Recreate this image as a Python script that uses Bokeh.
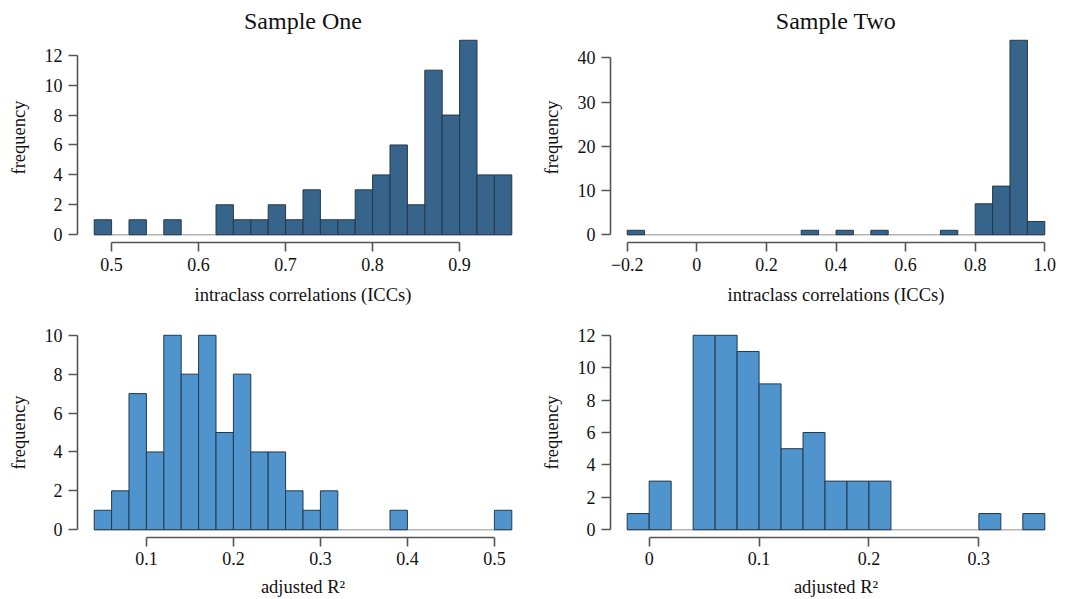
import numpy as np
from bokeh.plotting import figure
from bokeh.layouts import column, row
from bokeh.models import Range1d, FixedTicker
from bokeh.embed import file_html
from bokeh.resources import INLINE

# ---------------- data ----------------
# Sample One, intraclass correlations (bin width 0.02 starting at 0.48)
s1_icc_start = 0.48
s1_icc_width = 0.02
s1_icc_counts = [1, 0, 1, 0, 1, 0, 0, 2, 1, 1, 2, 1, 3, 1, 1, 3, 4, 6, 2, 11, 8, 13, 4, 4]
s1_icc_xticks = [0.5, 0.6, 0.7, 0.8, 0.9]
s1_icc_xlabels = ["0.5", "0.6", "0.7", "0.8", "0.9"]
s1_icc_yticks = [0, 2, 4, 6, 8, 10, 12]

# Sample Two, intraclass correlations (bin width 0.05 starting at -0.2)
s2_icc_start = -0.2
s2_icc_width = 0.05
s2_icc_counts = [1, 0, 0, 0, 0, 0, 0, 0, 0, 0, 1, 0, 1, 0, 1, 0, 0, 0, 1, 0, 7, 11, 44, 3]
s2_icc_xticks = [-0.2, 0.0, 0.2, 0.4, 0.6, 0.8, 1.0]
s2_icc_xlabels = ["\u22120.2", "0", "0.2", "0.4", "0.6", "0.8", "1.0"]
s2_icc_yticks = [0, 10, 20, 30, 40]

# Sample One, adjusted R^2 (bin width 0.02 starting at 0.04)
s1_r2_start = 0.04
s1_r2_width = 0.02
s1_r2_counts = [1, 2, 7, 4, 10, 8, 10, 5, 8, 4, 4, 2, 1, 2, 0, 0, 0, 1, 0, 0, 0, 0, 0, 1]
s1_r2_xticks = [0.1, 0.2, 0.3, 0.4, 0.5]
s1_r2_xlabels = ["0.1", "0.2", "0.3", "0.4", "0.5"]
s1_r2_yticks = [0, 2, 4, 6, 8, 10]

# Sample Two, adjusted R^2 (bin width 0.02 starting at -0.02)
s2_r2_start = -0.02
s2_r2_width = 0.02
s2_r2_counts = [1, 3, 0, 12, 12, 11, 9, 5, 6, 3, 3, 3, 0, 0, 0, 0, 1, 0, 1]
s2_r2_xticks = [0.0, 0.1, 0.2, 0.3]
s2_r2_xlabels = ["0", "0.1", "0.2", "0.3"]
s2_r2_yticks = [0, 2, 4, 6, 8, 10, 12]

titles = ["Sample One", "Sample Two"]
xlabel_icc = "intraclass correlations (ICCs)"
xlabel_r2 = "adjusted R\u00b2"
ylabel = "frequency"

DARK = "#36648B"
LIGHT = "#4F94CD"
FONT = "Liberation Serif"


def hist_panel(start, width, counts, xticks, xlabels, yticks, fill, xlabel,
               title=None, left=77, right=6, top=32, bottom=57,
               tick_standoff=6, label_standoff=11):
    counts = np.array(counts, dtype=float)
    edges = start + width * np.arange(len(counts) + 1)
    lo, hi = edges[0], edges[-1]
    ymax = counts.max()
    padx = 0.04 * (hi - lo)
    pady = 0.04 * ymax
    p = figure(frame_width=451, frame_height=210,
               x_range=Range1d(lo - padx, hi + padx),
               y_range=Range1d(-pady, ymax + pady),
               output_backend="svg", toolbar_location=None,
               min_border_left=left, min_border_right=right,
               min_border_top=top, min_border_bottom=bottom,
               background_fill_color="white", border_fill_color="white")
    p.outline_line_color = None
    p.xgrid.visible = False
    p.ygrid.visible = False
    if title:
        p.title.text = title
        p.title.align = "center"
        p.title.text_font = FONT
        p.title.text_font_size = "24px"
        p.title.text_font_style = "normal"
        p.title.text_color = "#111111"
        p.title.standoff = -2
    # baseline (zero-height bins)
    p.segment(x0=[lo], y0=[0], x1=[hi], y1=[0], line_color="#b4b4b4", line_width=1.5)
    nz = counts > 0
    p.quad(left=edges[:-1][nz], right=edges[1:][nz], top=counts[nz], bottom=0,
           fill_color=fill, line_color="#24384c", line_width=1)

    for ax in (p.xaxis[0], p.yaxis[0]):
        ax.axis_line_color = "#555555"
        ax.axis_line_width = 1.6
        ax.major_tick_line_color = "#555555"
        ax.major_tick_line_width = 1.6
        ax.major_tick_in = 0
        ax.major_tick_out = 9
        ax.minor_tick_line_color = None
        ax.major_label_text_font = FONT
        ax.major_label_text_font_size = "18px"
        ax.major_label_text_color = "#111111"
        ax.axis_label_text_font = FONT
        ax.axis_label_text_font_size = "18.5px"
        ax.axis_label_text_font_style = "normal"
        ax.axis_label_text_color = "#111111"

    xa = p.xaxis[0]
    xa.ticker = FixedTicker(ticks=xticks)
    xa.major_label_overrides = {t: l for t, l in zip(xticks, xlabels)}
    xa.bounds = (xticks[0], xticks[-1])
    xa.axis_label = xlabel
    xa.major_label_standoff = tick_standoff
    xa.axis_label_standoff = label_standoff

    ya = p.yaxis[0]
    ya.ticker = FixedTicker(ticks=yticks)
    ya.major_label_overrides = {t: str(t) for t in yticks}
    ya.bounds = (yticks[0], yticks[-1])
    ya.axis_label = ylabel
    ya.major_label_standoff = 6
    ya.major_label_orientation = "horizontal"
    ya.axis_label_standoff = 13
    return p


p1 = hist_panel(s1_icc_start, s1_icc_width, s1_icc_counts, s1_icc_xticks, s1_icc_xlabels,
                s1_icc_yticks, DARK, xlabel_icc, title=titles[0],
                left=77, right=6, top=32, bottom=60, tick_standoff=6, label_standoff=11)
p2 = hist_panel(s2_icc_start, s2_icc_width, s2_icc_counts, s2_icc_xticks, s2_icc_xlabels,
                s2_icc_yticks, DARK, xlabel_icc, title=titles[1],
                left=76, right=7, top=32, bottom=60, tick_standoff=6, label_standoff=11)
p3 = hist_panel(s1_r2_start, s1_r2_width, s1_r2_counts, s1_r2_xticks, s1_r2_xlabels,
                s1_r2_yticks, LIGHT, xlabel_r2, left=77, right=6, top=20, bottom=62,
                tick_standoff=5, label_standoff=9)
p4 = hist_panel(s2_r2_start, s2_r2_width, s2_r2_counts, s2_r2_xticks, s2_r2_xlabels,
                s2_r2_yticks, LIGHT, xlabel_r2, left=76, right=7, top=20, bottom=62,
                tick_standoff=5, label_standoff=9)

layout = column(row(p1, p2, spacing=0), row(p3, p4, spacing=0), spacing=0)

open("out.html", "w").write(file_html(layout, INLINE))
